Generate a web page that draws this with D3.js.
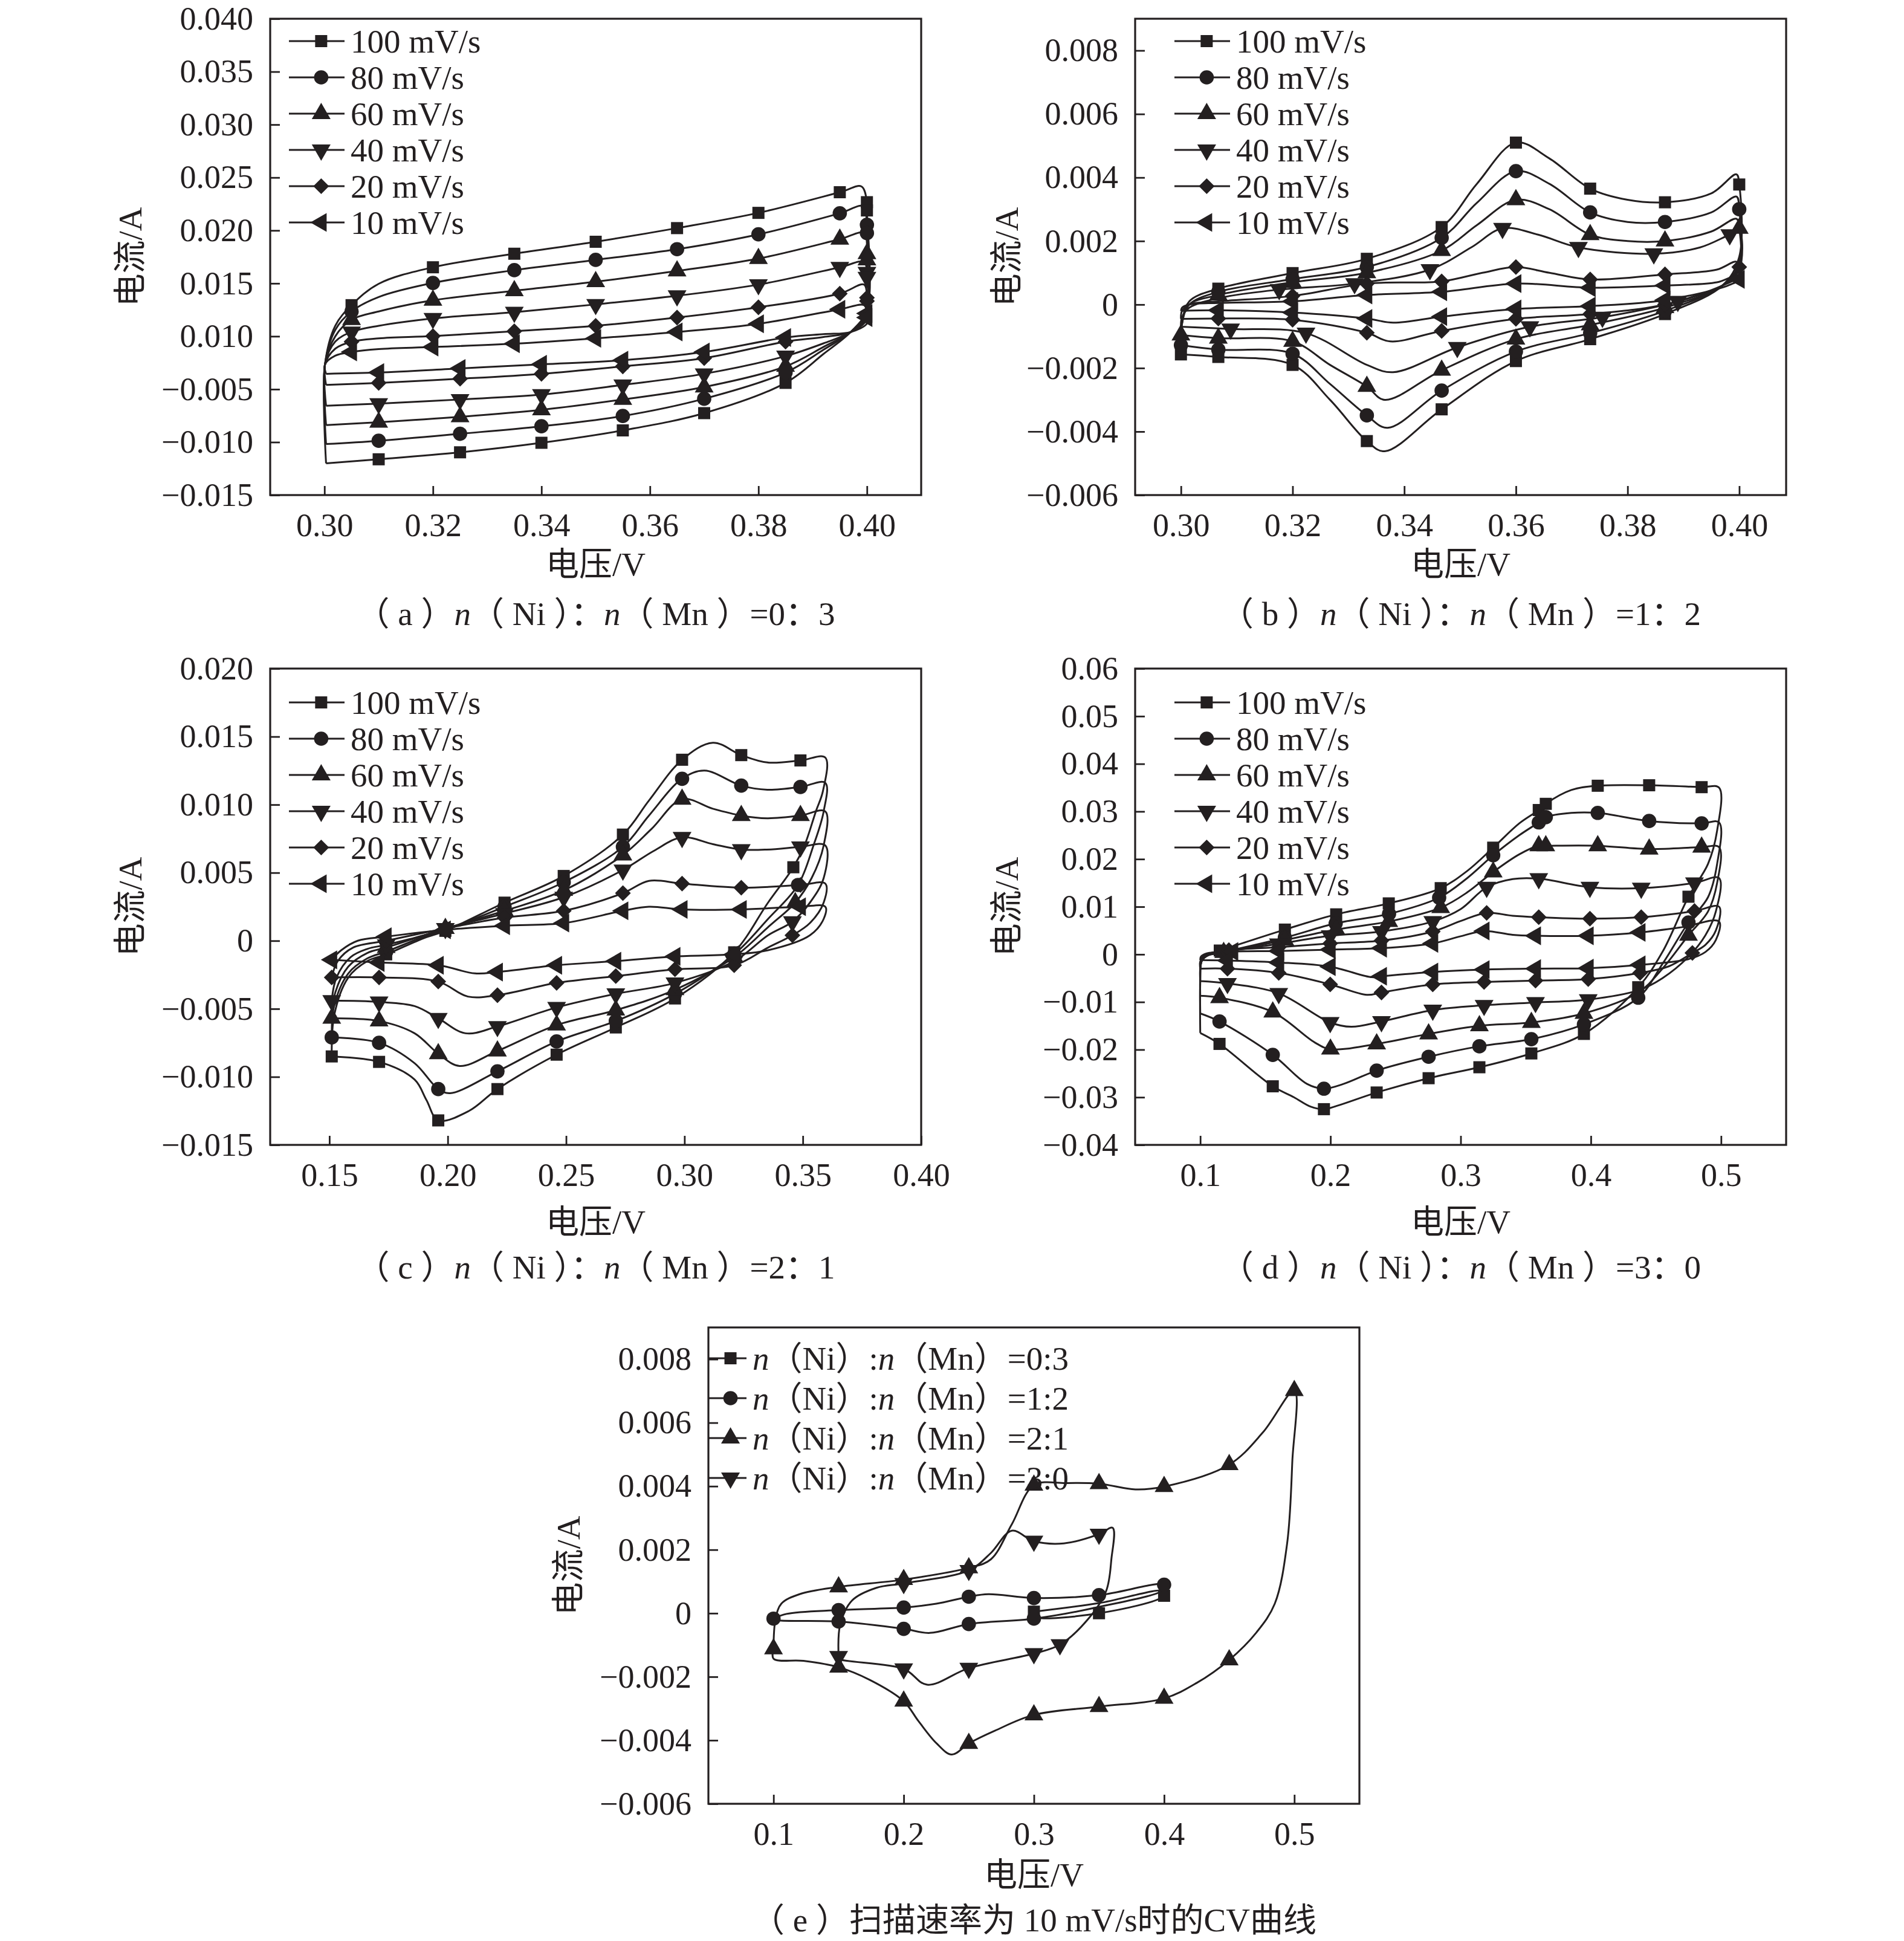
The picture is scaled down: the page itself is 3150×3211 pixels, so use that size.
<!DOCTYPE html>
<html>
<head>
<meta charset="utf-8">
<script src="https://cdn.jsdelivr.net/npm/d3@7"></script>
<style>
  body { margin: 0; background: #fff; }
  text { font-family: "Liberation Serif", "Times New Roman", "Noto Sans CJK SC", serif; fill: #231f20; }
</style>
</head>
<body>
<svg id="chart" width="3150" height="3211"></svg>
<script>
// ---- labels / ticks ----
const rateLabels = ['100 mV/s', '80 mV/s', '60 mV/s', '40 mV/s', '20 mV/s', '10 mV/s'];
const ratioLegend = ['0:3', '1:2', '2:1', '3:0'];
const xTicksAB = [0.30, 0.32, 0.34, 0.36, 0.38, 0.40];
const xTicksC = [0.15, 0.20, 0.25, 0.30, 0.35, 0.40];
const xTicksDE = [0.1, 0.2, 0.3, 0.4, 0.5];
const yTicksA = [0.040, 0.035, 0.030, 0.025, 0.020, 0.015, 0.010, -0.005, -0.010, -0.015];
const yTicksBE = [0.008, 0.006, 0.004, 0.002, 0, -0.002, -0.004, -0.006];
const yTicksC = [0.020, 0.015, 0.010, 0.005, 0, -0.005, -0.010, -0.015];
const yTicksD = [0.06, 0.05, 0.04, 0.03, 0.02, 0.01, 0, -0.01, -0.02, -0.03, -0.04];

// ---- data: [voltage, current, marker] ----
// (a) n(Ni):n(Mn)=0:3
const a100 = [[0.3003,-0.0120],[0.3001,0.0020],[0.302,0.0110],[0.305,0.01294,1],[0.31,0.01496],[0.32,0.01652,1],[0.335,0.0178,1],[0.35,0.01893,1],[0.365,0.02022,1],[0.38,0.02166,1],[0.395,0.02361,1],[0.399,0.02415],[0.4,0.02267,1],[0.4,0.02189,1],[0.4,0.0125],[0.397,0.0104],[0.392,0.0050],[0.385,-0.0032,1],[0.37,-0.00726,1],[0.355,-0.00889,1],[0.34,-0.01006,1],[0.325,-0.01096,1],[0.31,-0.01162,1],[0.3003,-0.0120]];
const a80 = [[0.3003,-0.01018],[0.3001,0.0020],[0.302,0.0106],[0.305,0.01235,1],[0.31,0.01371],[0.32,0.01504,1],[0.335,0.01625,1],[0.35,0.01722,1],[0.365,0.01823,1],[0.38,0.01963,1],[0.395,0.02162,1],[0.3993,0.02228],[0.4,0.02053,1],[0.4,0.01975,1],[0.4,0.0122],[0.397,0.0104],[0.392,0.0062],[0.385,-0.00028,1],[0.37,-0.0059,1],[0.355,-0.00753,1],[0.34,-0.0085,1],[0.325,-0.00921,1],[0.31,-0.00987,1],[0.3003,-0.01018]];
const a60 = [[0.3003,-0.00839],[0.3001,0.0020],[0.302,0.0100],[0.305,0.01157,1],[0.31,0.01235],[0.32,0.0134,1],[0.335,0.0143,1],[0.35,0.01516,1],[0.365,0.01617,1],[0.38,0.01734,1],[0.395,0.01917,1],[0.3995,0.01975],[0.4,0.0178,1],[0.4,0.01722,1],[0.4,0.0120],[0.397,0.0104],[0.392,0.0070],[0.385,0.00147,1],[0.37,-0.00437,1],[0.355,-0.00597,1],[0.34,-0.00695,1],[0.325,-0.00761,1],[0.31,-0.00812,1],[0.3003,-0.00839]];
const a40 = [[0.3003,-0.00656],[0.3001,0.0020],[0.302,0.0085],[0.305,0.01041,1],[0.31,0.01099],[0.32,0.01169,1],[0.335,0.01228,1],[0.35,0.01301,1],[0.365,0.01383,1],[0.38,0.01488,1],[0.395,0.01652,1],[0.3995,0.01703],[0.4,0.01605,1],[0.4,0.01558,1],[0.4,0.0118],[0.397,0.0104],[0.392,0.0080],[0.385,0.00439,1],[0.37,-0.00063,1],[0.355,-0.00378,1],[0.34,-0.00551,1],[0.325,-0.00597,1],[0.31,-0.00636,1],[0.3003,-0.00656]];
const a20 = [[0.3003,-0.00378],[0.3001,0.0020],[0.302,0.0065],[0.305,0.00848,1],[0.31,0.00942],[0.32,0.01002,1],[0.335,0.01048,1],[0.35,0.01099,1],[0.365,0.01177,1],[0.38,0.01274,1],[0.395,0.01403,1],[0.3995,0.01488],[0.4,0.01364,1],[0.4,0.01333,1],[0.4,0.0116],[0.397,0.0104],[0.392,0.0098],[0.385,0.00848,1],[0.37,0.00381,1],[0.355,0.00147,1],[0.34,-0.00063,1],[0.325,-0.00203,1],[0.31,-0.0032,1],[0.3003,-0.00378]];
const a10 = [[0.3003,-0.00063],[0.3001,0.0020],[0.302,0.0045],[0.305,0.00556,1],[0.31,0.00638],[0.32,0.00696,1],[0.335,0.0079,1],[0.35,0.00942,1],[0.365,0.01041,1],[0.38,0.01118,1],[0.395,0.01255,1],[0.3995,0.01294],[0.4,0.01216,1],[0.4,0.01177,1],[0.4,0.0112],[0.397,0.0104],[0.392,0.0102],[0.385,0.00965,1],[0.37,0.00556,1],[0.355,0.00322,1],[0.34,0.00206,1],[0.325,0.00089,1],[0.31,-0.00028,1],[0.3003,-0.00063]];

// (b) n(Ni):n(Mn)=1:2
const b100 = [[0.3,-0.00157,1],[0.3002,-0.0006],[0.3015,0.0001],[0.3067,0.0005,1],[0.32,0.00099,1],[0.3333,0.00144,1],[0.3467,0.00244,1],[0.353,0.0038],[0.36,0.0051,1],[0.366,0.0046],[0.3733,0.00365,1],[0.38,0.0033],[0.3867,0.00322,1],[0.395,0.0035],[0.3995,0.0041],[0.4,0.00378,1],[0.4,0.0015],[0.397,0.0006],[0.3867,-0.0003,1],[0.3733,-0.00109,1],[0.36,-0.00178,1],[0.3467,-0.0033,1],[0.3365,-0.00462],[0.3333,-0.0043,1],[0.3267,-0.0030],[0.32,-0.0019,1],[0.3067,-0.00165,1],[0.3,-0.00157]];
const b80 = [[0.3,-0.00128,1],[0.3002,-0.0006],[0.3015,0.0],[0.3067,0.0004,1],[0.32,0.0008,1],[0.3333,0.00118,1],[0.3467,0.0021,1],[0.353,0.0032],[0.36,0.0042,1],[0.366,0.0038],[0.3733,0.0029,1],[0.38,0.0026],[0.3867,0.0026,1],[0.395,0.0029],[0.3995,0.0034],[0.4,0.0030,1],[0.4,0.0013],[0.397,0.0006],[0.3867,-0.0002,1],[0.3733,-0.0009,1],[0.36,-0.00148,1],[0.3467,-0.00271,1],[0.337,-0.00388],[0.3333,-0.00349,1],[0.3267,-0.0025],[0.32,-0.00155,1],[0.3067,-0.00142,1],[0.3,-0.00128]];
const b60 = [[0.3,-0.00096,1],[0.3002,-0.0005],[0.3015,0.0],[0.3067,0.0003,1],[0.32,0.0007,1],[0.3333,0.0010,1],[0.3467,0.0017,1],[0.353,0.0025],[0.36,0.0033,1],[0.366,0.0030],[0.3733,0.0022,1],[0.38,0.0020],[0.3867,0.0020,1],[0.395,0.0023],[0.3995,0.0027],[0.4,0.0024,1],[0.4,0.0012],[0.397,0.0006],[0.3867,-0.0001,1],[0.3733,-0.00064,1],[0.36,-0.00109,1],[0.3467,-0.00207,1],[0.3365,-0.0030],[0.3333,-0.00258,1],[0.3267,-0.0019],[0.32,-0.00116,1],[0.3067,-0.00106,1],[0.3,-0.00096]];
const b40 = [[0.3,-0.0007],[0.3002,-0.0004],[0.3015,-0.0001],[0.3067,0.0002],[0.3176,0.00047,1],[0.3311,0.00066,1],[0.3446,0.0011,1],[0.352,0.0018],[0.3576,0.0024,1],[0.364,0.0022],[0.3712,0.0018,1],[0.3847,0.0016,1],[0.393,0.0018],[0.3983,0.0022,1],[0.4,0.0023],[0.4,0.0011],[0.397,0.0006],[0.389,0.0001,1],[0.3755,-0.0004,1],[0.3625,-0.0007,1],[0.3495,-0.00135,1],[0.338,-0.00213],[0.3333,-0.0019],[0.3224,-0.0009,1],[0.3089,-0.00077,1],[0.3,-0.0007]];
const b20 = [[0.3,-0.00045],[0.3002,-0.0002],[0.3015,0.0],[0.3067,0.0001],[0.32,0.00027,1],[0.3333,0.00066,1],[0.3467,0.00073,1],[0.354,0.001],[0.36,0.00118,1],[0.366,0.0010],[0.3733,0.00079,1],[0.3867,0.00095,1],[0.396,0.0011],[0.3995,0.00135],[0.4,0.00118,1],[0.4,0.0009],[0.397,0.0006],[0.3867,0.0000,1],[0.3733,-0.0003,1],[0.36,-0.00045,1],[0.3467,-0.00083,1],[0.3375,-0.00116],[0.3333,-0.00089,1],[0.32,-0.00048,1],[0.3067,-0.00044,1],[0.3,-0.00045]];
const b10 = [[0.3,-0.0002],[0.3002,-0.0001],[0.3015,0.0],[0.3067,0.00005],[0.32,0.0001,1],[0.3333,0.0003,1],[0.3467,0.0004,1],[0.36,0.00066,1],[0.3733,0.00053,1],[0.3867,0.0006,1],[0.396,0.0007],[0.3995,0.0009],[0.4,0.00079,1],[0.398,0.0006],[0.3867,0.00014,1],[0.3733,-0.00005,1],[0.36,-0.00014,1],[0.3467,-0.00038,1],[0.338,-0.00057],[0.3333,-0.00044,1],[0.32,-0.00025,1],[0.3067,-0.00018,1],[0.3,-0.0002]];

// (c) n(Ni):n(Mn)=2:1
const c100 = [[0.151,-0.0085,1],[0.152,-0.0055],[0.158,-0.0027],[0.166,-0.0015],[0.174,-0.001,1],[0.19,0.0002],[0.199,0.00073,1],[0.224,0.0028,1],[0.249,0.00476,1],[0.274,0.0078,1],[0.285,0.0103],[0.299,0.0133,1],[0.312,0.01455],[0.324,0.01364,1],[0.335,0.0131],[0.349,0.01325,1],[0.3595,0.01346],[0.3585,0.011],[0.3555,0.0095],[0.3507,0.007],[0.346,0.0054,1],[0.3353,0.0028],[0.321,-0.00085,1],[0.296,-0.00424,1],[0.271,-0.00637,1],[0.246,-0.00837,1],[0.221,-0.0109,1],[0.209,-0.0125],[0.196,-0.0132,1],[0.191,-0.0117],[0.186,-0.0102],[0.171,-0.0089,1],[0.151,-0.0085]];
const c80 = [[0.151,-0.0071,1],[0.152,-0.0048],[0.158,-0.0024],[0.166,-0.0013],[0.174,-0.0008,1],[0.19,0.0003],[0.199,0.0008,1],[0.224,0.0025,1],[0.249,0.0043,1],[0.274,0.0069,1],[0.285,0.0092],[0.299,0.0119,1],[0.3085,0.0125],[0.324,0.0114,1],[0.335,0.0111],[0.349,0.0113,1],[0.3595,0.0116],[0.3588,0.0095],[0.3545,0.007],[0.348,0.0041,1],[0.3353,0.0016],[0.321,-0.001,1],[0.296,-0.0039,1],[0.271,-0.0059,1],[0.246,-0.0074,1],[0.221,-0.0096,1],[0.201,-0.0112],[0.196,-0.0109,1],[0.186,-0.0090],[0.171,-0.0075,1],[0.151,-0.0071]];
const c60 = [[0.151,-0.0057,1],[0.1525,-0.0038],[0.158,-0.0019],[0.166,-0.0009],[0.174,-0.0005,1],[0.19,0.0004],[0.199,0.0009,1],[0.224,0.0022,1],[0.249,0.0037,1],[0.274,0.0063,1],[0.286,0.0082],[0.299,0.0104,1],[0.312,0.0097],[0.324,0.0092,1],[0.335,0.0090],[0.349,0.0092,1],[0.3595,0.0095],[0.3588,0.007],[0.3537,0.0046],[0.3468,0.0028,1],[0.3353,0.001],[0.321,-0.0012,1],[0.296,-0.0036,1],[0.271,-0.0051,1],[0.246,-0.0062,1],[0.221,-0.0081,1],[0.205,-0.0092],[0.196,-0.0083,1],[0.186,-0.0068],[0.171,-0.0059,1],[0.151,-0.0057]];
const c40 = [[0.151,-0.0044,1],[0.153,-0.0027],[0.159,-0.0012],[0.166,-0.0006],[0.174,-0.0003,1],[0.19,0.0004],[0.199,0.0009,1],[0.224,0.0020,1],[0.249,0.0032,1],[0.274,0.0052,1],[0.287,0.0066],[0.299,0.0076,1],[0.312,0.0071],[0.324,0.0067,1],[0.335,0.0067],[0.349,0.0069,1],[0.3595,0.0070],[0.3588,0.0046],[0.353,0.0028],[0.3456,0.0014,1],[0.3353,0.0004],[0.321,-0.0015,1],[0.296,-0.0031,1],[0.271,-0.0039,1],[0.246,-0.0049,1],[0.221,-0.0063,1],[0.2075,-0.0068],[0.196,-0.0057,1],[0.186,-0.0048],[0.171,-0.0045,1],[0.151,-0.0044]];
const c20 = [[0.151,-0.0027,1],[0.1535,-0.0015],[0.16,-0.0005],[0.174,0.0,1],[0.199,0.0009,1],[0.224,0.0017,1],[0.249,0.0022,1],[0.274,0.0035,1],[0.285,0.0044],[0.299,0.0042,1],[0.324,0.0039,1],[0.349,0.0041,1],[0.3595,0.0042],[0.3588,0.0028],[0.353,0.0013],[0.3456,0.0004,1],[0.3353,-0.0005],[0.321,-0.0018,1],[0.296,-0.0021,1],[0.271,-0.0026,1],[0.246,-0.0031,1],[0.221,-0.0040,1],[0.2085,-0.0041],[0.196,-0.0030,1],[0.171,-0.0027,1],[0.151,-0.0027]];
const c10 = [[0.151,-0.0014,1],[0.155,-0.0007],[0.162,0.0],[0.174,0.0003,1],[0.199,0.0008,1],[0.224,0.0011,1],[0.249,0.0013,1],[0.274,0.0022,1],[0.285,0.0025],[0.299,0.0023,1],[0.324,0.0023,1],[0.349,0.0025,1],[0.3595,0.0025],[0.3588,0.0016],[0.353,0.0004],[0.3353,-0.0007],[0.321,-0.001,1],[0.296,-0.00115,1],[0.271,-0.0015,1],[0.246,-0.0018,1],[0.221,-0.0023,1],[0.2115,-0.0024],[0.196,-0.0018,1],[0.171,-0.0016,1],[0.151,-0.0014]];

// (d) n(Ni):n(Mn)=3:0
const d100 = [[0.1,-0.0165],[0.1,-0.006],[0.101,-0.0015],[0.106,0.0],[0.115,0.0008,1],[0.165,0.0052,1],[0.2044,0.0084,1],[0.2448,0.0107,1],[0.2847,0.0139,1],[0.305,0.0175],[0.325,0.0224,1],[0.345,0.0275],[0.36,0.0303,1],[0.3654,0.0316,1],[0.385,0.0345],[0.4053,0.0354,1],[0.4448,0.0355,1],[0.4851,0.0351,1],[0.4985,0.0350],[0.497,0.026],[0.49,0.019],[0.475,0.0121,1],[0.455,0.0005],[0.4364,-0.0069,1],[0.3947,-0.0167,1],[0.3543,-0.0208,1],[0.3144,-0.0237,1],[0.2754,-0.026,1],[0.2355,-0.029,1],[0.205,-0.0318],[0.195,-0.0325,1],[0.185,-0.0320],[0.172,-0.0300],[0.1557,-0.0277,1],[0.1148,-0.0188,1],[0.1,-0.0165]];
const d80 = [[0.1,-0.0124],[0.1,-0.005],[0.101,-0.0015],[0.106,-0.0002],[0.118,0.0005,1],[0.165,0.0035,1],[0.204,0.0065,1],[0.245,0.0085,1],[0.2835,0.0119,1],[0.305,0.016],[0.325,0.0208,1],[0.345,0.025],[0.36,0.0277,1],[0.3654,0.0288,1],[0.385,0.0297],[0.4053,0.0297,1],[0.4448,0.028,1],[0.4851,0.0275,1],[0.4985,0.0277],[0.497,0.019],[0.49,0.012],[0.475,0.0067,1],[0.455,-0.002],[0.4364,-0.0091,1],[0.3947,-0.0147,1],[0.3543,-0.0178,1],[0.3144,-0.0193,1],[0.2754,-0.0215,1],[0.2355,-0.0244,1],[0.21,-0.0272],[0.195,-0.0282,1],[0.182,-0.0272],[0.1557,-0.0211,1],[0.1148,-0.0141,1],[0.1,-0.0124]];
const d60 = [[0.1,-0.0087],[0.1,-0.004],[0.101,-0.0012],[0.106,-0.0002],[0.118,0.0004,1],[0.165,0.0030,1],[0.2044,0.0052,1],[0.2448,0.0069,1],[0.2847,0.0098,1],[0.305,0.013],[0.325,0.0173,1],[0.345,0.021],[0.36,0.0228,1],[0.3654,0.0228,1],[0.4053,0.0228,1],[0.4448,0.0221,1],[0.4851,0.0225,1],[0.4985,0.0225],[0.497,0.015],[0.49,0.009],[0.475,0.004,1],[0.455,-0.003],[0.4364,-0.008],[0.3947,-0.0124,1],[0.3543,-0.0143,1],[0.3144,-0.015,1],[0.2754,-0.0167,1],[0.2355,-0.0188,1],[0.2,-0.0199,1],[0.188,-0.0185],[0.1557,-0.0121,1],[0.1148,-0.0091,1],[0.1,-0.0087]];
const d40 = [[0.1,-0.0056],[0.1,-0.003],[0.102,-0.0008],[0.107,0.0],[0.12,0.0006,1],[0.16,0.0022,1],[0.1998,0.0039,1],[0.2392,0.0048,1],[0.2786,0.0069,1],[0.3,0.0095],[0.32,0.0141,1],[0.34,0.0158],[0.36,0.0159,1],[0.3993,0.0141,1],[0.4387,0.0139,1],[0.4796,0.015,1],[0.4985,0.016],[0.496,0.009],[0.488,0.004],[0.475,-0.0005],[0.455,-0.005],[0.437,-0.0075],[0.398,-0.0095,1],[0.3575,-0.0101,1],[0.318,-0.0107,1],[0.2786,-0.0117,1],[0.2392,-0.0141,1],[0.216,-0.0152],[0.1998,-0.0143,1],[0.1603,-0.0082,1],[0.1209,-0.0061,1],[0.1,-0.0056]];
const d20 = [[0.1,-0.003],[0.1,-0.0015],[0.103,-0.0002],[0.11,0.0004],[0.122,0.0009,1],[0.1603,0.0015,1],[0.1998,0.0023,1],[0.2392,0.0029,1],[0.2786,0.0048,1],[0.3,0.007],[0.32,0.0087,1],[0.34,0.0081],[0.36,0.0078,1],[0.3993,0.0075,1],[0.4387,0.0078,1],[0.4796,0.0091,1],[0.4985,0.0100],[0.496,0.005],[0.488,0.002],[0.478,0.0003,1],[0.46,-0.0025],[0.4378,-0.0039,1],[0.398,-0.0052,1],[0.3575,-0.0055,1],[0.318,-0.0058,1],[0.2786,-0.0063,1],[0.2392,-0.008,1],[0.228,-0.0085],[0.1998,-0.0063,1],[0.1603,-0.0039,1],[0.1209,-0.003,1],[0.1,-0.003]];
const d10 = [[0.1,-0.0012],[0.1005,-0.0005],[0.105,0.0002],[0.125,0.0006,1],[0.1603,0.0007,1],[0.1998,0.001,1],[0.2392,0.0013,1],[0.2786,0.0023,1],[0.3,0.0038],[0.318,0.0049,1],[0.34,0.0041],[0.3575,0.0039,1],[0.398,0.0039,1],[0.4378,0.0046,1],[0.47,0.0057],[0.4985,0.0069],[0.496,0.003],[0.488,0.0005],[0.475,-0.001],[0.4378,-0.0022,1],[0.398,-0.0029,1],[0.3575,-0.003,1],[0.318,-0.0032,1],[0.2786,-0.0037,1],[0.2392,-0.0046,1],[0.232,-0.0048],[0.1998,-0.0026,1],[0.1603,-0.0017,1],[0.1209,-0.0013,1],[0.1,-0.0012]];

// (e) 10 mV/s, four compositions
const e03 = [[0.3,0.00005,1],[0.35,0.00032],[0.4,0.0007],[0.4,0.00055,1],[0.35,0.0,1],[0.3,-0.0001],[0.3,0.00005]];
const e12 = [[0.1,-0.00017,1],[0.11,-0.00002],[0.15,0.0001,1],[0.2,0.00018,1],[0.225,0.0003],[0.25,0.00052,1],[0.265,0.0006],[0.3,0.00048,1],[0.35,0.00057,1],[0.4,0.0009,1],[0.4,0.00075],[0.35,0.0002],[0.3,-0.00017,1],[0.25,-0.00034,1],[0.22,-0.00062],[0.2,-0.00049,1],[0.15,-0.00026,1],[0.1,-0.0002],[0.1,-0.00017]];
const e21 = [[0.1,-0.00112,1],[0.1015,-0.0002],[0.106,0.0003],[0.12,0.0006],[0.15,0.00083,1],[0.2,0.00106,1],[0.25,0.00143,1],[0.267,0.0017],[0.283,0.0028],[0.3,0.00403,1],[0.325,0.0041],[0.35,0.00408,1],[0.378,0.0039],[0.4,0.00399,1],[0.45,0.00468,1],[0.476,0.0057],[0.5,0.00701,1],[0.4985,0.0048],[0.4945,0.0022],[0.485,0.0003],[0.471,-0.0006],[0.45,-0.00147,1],[0.4248,-0.0022],[0.4,-0.00268,1],[0.35,-0.00294,1],[0.3,-0.0032,1],[0.27,-0.0037],[0.25,-0.0041,1],[0.2369,-0.00445],[0.2253,-0.0041],[0.2114,-0.0034],[0.2,-0.00277,1],[0.174,-0.0021],[0.15,-0.0017,1],[0.123,-0.0015],[0.1,-0.00143],[0.1,-0.00112]];
const e30 = [[0.15,-0.00136,1],[0.151,-0.0004],[0.1603,0.0004],[0.179,0.0008],[0.2,0.00094,1],[0.25,0.00135,1],[0.267,0.0019],[0.283,0.0026],[0.3,0.00227,1],[0.323,0.0022],[0.35,0.00249,1],[0.3605,0.00269],[0.3595,0.0017],[0.3555,0.0007],[0.3413,-0.0002],[0.32,-0.00099,1],[0.3,-0.00127,1],[0.25,-0.00173,1],[0.218,-0.00225],[0.2,-0.00175,1],[0.15,-0.00143],[0.15,-0.00136]];

// ---- layout ----
const plotW = 1077, plotH = 788;
const ink = '#231f20';
const fmt3 = d3.format('.3f'), fmt2 = d3.format('.2f'), fmt1 = d3.format('.1f');
const zero = f => d => (d === 0 ? '0' : f(d));

const rateLegend = rateLabels.map(t => [[t, false]]);
const compLegend = ratioLegend.map(r => [['n', true], ['（Ni）:', false], ['n', true], ['（Mn）=' + r, false]]);
const capParts = (tag, r) => [['（ ' + tag + ' ）', false], ['n', true], ['（ Ni ）：', false], ['n', true], ['（ Mn ）=' + r, false]];

const panels = [
  { left: 447, top: 31, xDomain: [0.29, 0.41], xTicks: xTicksAB, xFmt: fmt2,
    yDomain: [-0.015, -0.005, 0.010, 0.040], yFrac: [1, 7 / 9, 6 / 9, 0], yTicks: yTicksA, yFmt: fmt3,
    series: [a100, a80, a60, a40, a20, a10], legend: rateLegend,
    lg: { x0: 31, y0: 37, step: 60, len: 92 }, yTitleDx: -232, xTitleDy: 114, capDy: 196,
    caption: capParts('a', '0：3') },
  { left: 1878, top: 31, xDomain: [0.2918, 0.4084], xTicks: xTicksAB, xFmt: fmt2,
    yDomain: [-0.006, 0.009], yFrac: [1, 0], yTicks: yTicksBE, yFmt: zero(fmt3),
    series: [b100, b80, b60, b40, b20, b10], legend: rateLegend,
    lg: { x0: 65, y0: 37, step: 60, len: 92 }, yTitleDx: -213, xTitleDy: 114, capDy: 196,
    caption: capParts('b', '1：2') },
  { left: 447, top: 1106, xDomain: [0.125, 0.40], xTicks: xTicksC, xFmt: fmt2,
    yDomain: [-0.015, 0.020], yFrac: [1, 0], yTicks: yTicksC, yFmt: zero(fmt3),
    series: [c100, c80, c60, c40, c20, c10], legend: rateLegend,
    lg: { x0: 31, y0: 56, step: 60, len: 92 }, yTitleDx: -232, xTitleDy: 127, capDy: 202,
    caption: capParts('c', '2：1') },
  { left: 1878, top: 1106, xDomain: [0.05, 0.55], xTicks: xTicksDE, xFmt: fmt1,
    yDomain: [-0.04, 0.06], yFrac: [1, 0], yTicks: yTicksD, yFmt: zero(fmt2),
    series: [d100, d80, d60, d40, d20, d10], legend: rateLegend,
    lg: { x0: 65, y0: 56, step: 60, len: 92 }, yTitleDx: -213, xTitleDy: 127, capDy: 202,
    caption: capParts('d', '3：0') },
  { left: 1172, top: 2196, xDomain: [0.05, 0.55], xTicks: xTicksDE, xFmt: fmt1,
    yDomain: [-0.006, 0.009], yFrac: [1, 0], yTicks: yTicksBE, yFmt: zero(fmt3),
    series: [e03, e12, e21, e30], legend: compLegend,
    lg: { x0: 0, y0: 51, step: 66, len: 63 }, yTitleDx: -232, xTitleDy: 117, capDy: 192,
    caption: [['（ e ）扫描速率为 10 mV/s时的CV曲线', false]] }
];

// marker shapes: square, circle, up, down, diamond, left
const shapes = [
  { type: d3.symbolSquare, size: 400, rot: 0 },
  { type: d3.symbolCircle, size: 440, rot: 0 },
  { type: d3.symbolTriangle, size: 420, rot: 0 },
  { type: d3.symbolTriangle, size: 420, rot: 180 },
  { type: d3.symbolSquare, size: 340, rot: 45 },
  { type: d3.symbolTriangle, size: 420, rot: -90 }
];

const svg = d3.select('#chart');
svg.append('rect').attr('width', 3150).attr('height', 3211).attr('fill', '#fff');

function rich(sel, parts) {
  parts.forEach(([t, it]) => {
    sel.append('tspan').attr('font-style', it ? 'italic' : 'normal').text(t);
  });
}

function drawPanel(p) {
  const g = svg.append('g').attr('transform', `translate(${p.left},${p.top})`);
  const x = d3.scaleLinear().domain(p.xDomain).range([0, plotW]);
  const y = d3.scaleLinear().domain(p.yDomain).range(p.yFrac.map(f => f * plotH));

  /* axes */
  const xAxis = d3.axisBottom(x).tickValues(p.xTicks).tickFormat(p.xFmt)
    .tickSizeInner(-15).tickSizeOuter(0).tickPadding(30);
  const yAxis = d3.axisLeft(y).tickValues(p.yTicks).tickFormat(p.yFmt)
    .tickSizeInner(-16).tickSizeOuter(0).tickPadding(28);

  const gx = g.append('g').attr('transform', `translate(0,${plotH})`).call(xAxis);
  const gy = g.append('g').call(yAxis);
  [gx, gy].forEach(a => {
    a.select('.domain').remove();
    a.selectAll('line').attr('stroke', ink).attr('stroke-width', 2.8);
    a.selectAll('text').attr('font-size', 54).attr('fill', ink)
      .attr('font-family', '"Liberation Serif", "Times New Roman", serif');
  });

  g.append('rect').attr('width', plotW).attr('height', plotH)
    .attr('fill', 'none').attr('stroke', ink).attr('stroke-width', 3.2);

  /* curves */
  const line = d3.line()
    .x(d => x(d[0]))
    .y(d => y(d[1]))
    .curve(d3.curveCatmullRom.alpha(0.5));

  g.append('g').selectAll('path')
    .data(p.series)
    .enter()
    .append('path')
    .attr('d', d => line(d))
    .attr('fill', 'none')
    .attr('stroke', ink)
    .attr('stroke-width', 3)
    .attr('stroke-linejoin', 'round');

  p.series.forEach((s, i) => {
    const sh = shapes[i];
    g.append('g').selectAll('path')
      .data(s.filter(d => d[2] === 1))
      .enter()
      .append('path')
      .attr('d', d3.symbol().type(sh.type).size(sh.size))
      .attr('transform', d => `translate(${x(d[0])},${y(d[1])}) rotate(${sh.rot})`)
      .attr('fill', ink);
  });

  /* legend */
  const lg = g.append('g');
  p.legend.forEach((parts, i) => {
    const yy = p.lg.y0 + i * p.lg.step;
    const sh = shapes[i];
    lg.append('line').attr('x1', p.lg.x0).attr('x2', p.lg.x0 + p.lg.len)
      .attr('y1', yy).attr('y2', yy).attr('stroke', ink).attr('stroke-width', 3);
    lg.append('path').attr('d', d3.symbol().type(sh.type).size(sh.size))
      .attr('transform', `translate(${p.lg.x0 + p.lg.len * 0.58},${yy}) rotate(${sh.rot})`)
      .attr('fill', ink);
    const t = lg.append('text').attr('x', p.lg.x0 + p.lg.len + 10).attr('y', yy)
      .attr('dy', '0.35em').attr('font-size', 55);
    rich(t, parts);
  });

  /* titles */
  g.append('text')
    .attr('transform', `translate(${p.yTitleDx},${plotH / 2}) rotate(-90)`)
    .attr('text-anchor', 'middle').attr('dy', '0.35em').attr('font-size', 55)
    .text('电流/A');
  g.append('text')
    .attr('x', plotW / 2).attr('y', plotH + p.xTitleDy)
    .attr('text-anchor', 'middle').attr('dy', '0.35em').attr('font-size', 55)
    .text('电压/V');
  const cap = g.append('text')
    .attr('x', plotW / 2).attr('y', plotH + p.capDy)
    .attr('text-anchor', 'middle').attr('dy', '0.35em').attr('font-size', 55);
  rich(cap, p.caption);
}

panels.forEach(drawPanel);
</script>
</body>
</html>
